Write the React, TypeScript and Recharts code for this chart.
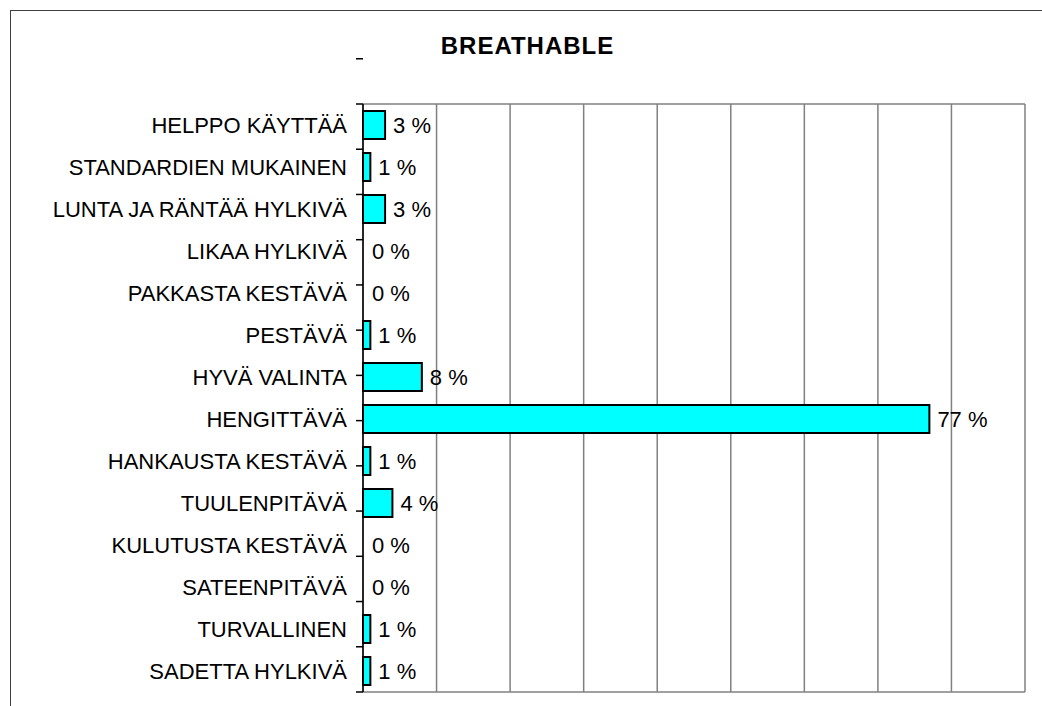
import React from 'react'
import {
  BarChart,
  Bar,
  XAxis,
  YAxis,
  CartesianGrid,
  LabelList,
  Rectangle,
} from 'recharts'

const categories = [
  'HELPPO KÄYTTÄÄ',
  'STANDARDIEN MUKAINEN',
  'LUNTA JA RÄNTÄÄ HYLKIVÄ',
  'LIKAA HYLKIVÄ',
  'PAKKASTA KESTÄVÄ',
  'PESTÄVÄ',
  'HYVÄ VALINTA',
  'HENGITTÄVÄ',
  'HANKAUSTA KESTÄVÄ',
  'TUULENPITÄVÄ',
  'KULUTUSTA KESTÄVÄ',
  'SATEENPITÄVÄ',
  'TURVALLINEN',
  'SADETTA HYLKIVÄ',
]
const percentages = [3, 1, 3, 0, 0, 1, 8, 77, 1, 4, 0, 0, 1, 1]
const xTicks = [0, 10, 20, 30, 40, 50, 60, 70, 80, 90]
// category boundaries, where the original draws its tick marks
const boundaryTicks = [0, 1, 2, 3, 4, 5, 6, 7, 8, 9, 10, 11, 12, 13, 14]

const FONT = '"Liberation Sans", Arial, sans-serif'
const W = 1042
const H = 706
const TOP = 104
const BOTTOM = 14
const AXIS_X = 363
const RIGHT = 17

const data = categories.map((name, i) => ({ name, value: percentages[i] }))

// zero values get no visible bar, but keep their label
function BarShape(props: any) {
  if (!props.payload || props.payload.value === 0) return <g />
  return <Rectangle {...props} />
}

// boundary axis carries only tick marks, no text
const NoLabel = () => <g />

export default function App() {
  return (
    <div style={{ position: 'absolute', left: 0, top: 0, width: W, height: H, overflow: 'hidden', background: '#fff' }}>
      <div
        style={{
          position: 'absolute',
          left: 10,
          top: 10,
          width: 1200,
          height: 900,
          border: '1px solid #404040',
        }}
      />
      <div
        style={{
          position: 'absolute',
          left: 0,
          width: 1055,
          top: 32,
          textAlign: 'center',
          fontFamily: FONT,
          fontWeight: 'bold',
          fontSize: 24,
          letterSpacing: 1,
          color: '#000',
        }}
      >
        BREATHABLE
      </div>
      <div style={{ position: 'absolute', left: 0, top: 0 }}>
        <BarChart
          width={W}
          height={H}
          data={data}
          layout="vertical"
          margin={{ top: TOP, right: RIGHT, bottom: BOTTOM, left: 0 }}
        >
          <CartesianGrid
            yAxisId={1}
            stroke="#808080"
            strokeWidth={1.5}
            horizontalCoordinatesGenerator={({ offset }: any) => [offset.top, offset.top + offset.height]}
          />
          <XAxis type="number" domain={[0, 90]} ticks={xTicks} hide />
          {/* thin axis on the plot edge: axis line + tick marks at category boundaries */}
          <YAxis
            yAxisId={0}
            type="number"
            domain={[0, categories.length]}
            allowDataOverflow
            ticks={boundaryTicks}
            reversed
            width={1}
            axisLine={{ stroke: '#000', strokeWidth: 1.5 }}
            tick={NoLabel}
            tickSize={7}
            tickLine={{ stroke: '#000', strokeWidth: 1.5 }}
            interval={0}
          />
          <YAxis
            yAxisId={1}
            type="category"
            dataKey="name"
            width={AXIS_X - 1}
            axisLine={false}
            tickLine={false}
            tickMargin={9}
            tick={{ fill: '#000', fontSize: 22, fontFamily: FONT }}
            interval={0}
          />
          <Bar
            yAxisId={1}
            dataKey="value"
            fill="#00FFFF"
            stroke="#000"
            strokeWidth={2}
            barSize={28}
            minPointSize={1}
            shape={<BarShape />}
            isAnimationActive={false}
          >
            <LabelList
              dataKey="value"
              position="right"
              offset={8}
              formatter={(v: any) => `${v} %`}
              fill="#000"
              fontSize={22}
              fontFamily={FONT}
            />
          </Bar>
        </BarChart>
      </div>
    </div>
  )
}
